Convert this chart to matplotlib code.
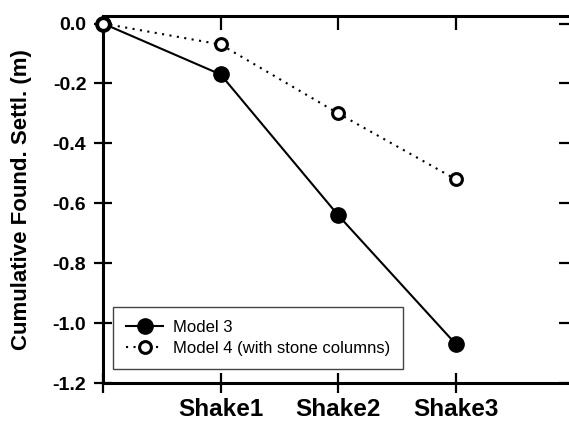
import matplotlib
matplotlib.use('Agg')
import matplotlib.pyplot as plt

# settlement after each shaking event (m), starting from zero
stages = [0, 1, 2, 3]
stage_labels = ['', 'Shake1', 'Shake2', 'Shake3']
model3 = [0.0, -0.17, -0.64, -1.07]
model4 = [0.0, -0.07, -0.30, -0.52]
yticks = [0.0, -0.2, -0.4, -0.6, -0.8, -1.0, -1.2]

plt.rcParams['font.family'] = ['Liberation Sans', 'DejaVu Sans']

fig = plt.figure(figsize=(5.69, 4.25), dpi=100)
ax = fig.add_axes([0.181, 0.0988, 0.8267, 0.8635])

ax.plot(stages, model3, color='black', lw=1.5, marker='o', ms=11,
        mfc='black', mec='black', label='Model 3', clip_on=False, zorder=3)
ax.plot(stages, model4, color='black', lw=1.5, ls=(0, (1, 2.6)), marker='o',
        ms=8.5, mfc='white', mec='black', mew=2.2,
        label='Model 4 (with stone columns)', clip_on=False, zorder=4)

ax.set_xlim(0, 4)
ax.set_ylim(-1.2, 0.025)

ax.set_yticks(yticks)
ax.set_yticklabels([f'{v:.1f}' for v in yticks], fontsize=14, fontweight='bold')
ax.set_xticks(stages)
ax.set_xticklabels(stage_labels, fontsize=17.5, fontweight='bold')

for side in ['left', 'right', 'top', 'bottom']:
    ax.spines[side].set_linewidth(2.2)

ax.tick_params(axis='y', which='major', left=True, right=True,
               width=1.6, direction='inout', length=13, pad=5.5)
ax.tick_params(axis='x', which='major', bottom=True, top=True,
               width=1.6, direction='inout', length=14, pad=4)

# top and right ticks point inward only
for t in ax.xaxis.get_major_ticks():
    t.tick2line.set_markersize(10)
    t.tick2line.set_marker(3)  # TICKDOWN
for t in ax.yaxis.get_major_ticks():
    t.tick2line.set_markersize(10)
    t.tick2line.set_marker(0)  # TICKLEFT

ax.set_ylabel('Cumulative Found. Settl. (m)', fontsize=16, fontweight='bold',
              labelpad=15)

leg = ax.legend(loc='lower left', bbox_to_anchor=(0.021, 0.038),
                borderaxespad=0, fontsize=12, handlelength=2.2,
                handletextpad=0.6, labelspacing=0.35, borderpad=0.8,
                fancybox=False, framealpha=1)
leg.get_frame().set_edgecolor('#444444')
leg.get_frame().set_linewidth(1.0)

fig.savefig('out.png', dpi=100)
